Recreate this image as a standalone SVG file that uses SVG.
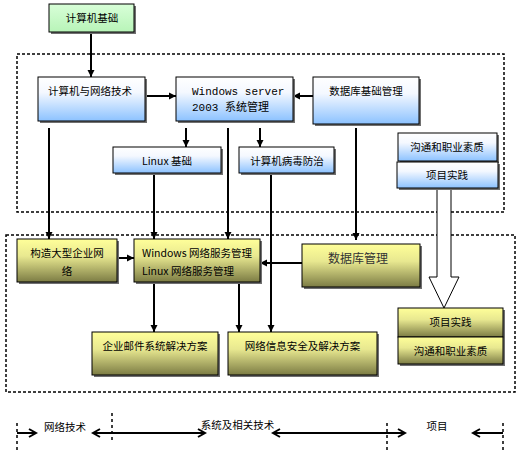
<svg xmlns="http://www.w3.org/2000/svg" width="518" height="456" viewBox="0 0 518 456">
<defs>
<linearGradient id="gBlue" x1="0" y1="0" x2="0" y2="1"><stop offset="0" stop-color="#ffffff"/><stop offset="0.35" stop-color="#f4f8ff"/><stop offset="1" stop-color="#8cc2ff"/></linearGradient>
<linearGradient id="gOlive" x1="0" y1="0" x2="0" y2="1"><stop offset="0" stop-color="#ffff99"/><stop offset="0.4" stop-color="#e8e890"/><stop offset="1" stop-color="#7c7c44"/></linearGradient>
<linearGradient id="gGreen" x1="0" y1="0" x2="0" y2="1"><stop offset="0" stop-color="#d8ffd8"/><stop offset="1" stop-color="#b8f4b8"/></linearGradient>
<marker id="ah" markerUnits="userSpaceOnUse" markerWidth="8" markerHeight="8" refX="7" refY="4" orient="auto"><path d="M0,0.5 L7,4 L0,7.5 z" fill="#000"/></marker>
<marker id="oh" markerUnits="userSpaceOnUse" markerWidth="10" markerHeight="10" refX="8" refY="5" orient="auto-start-reverse"><path d="M1,1 L8,5 L1,9" fill="none" stroke="#000" stroke-width="2"/></marker>
</defs>
<style>
.sh{fill:#707070}
.b{stroke:#000;stroke-width:1}
.blue{fill:url(#gBlue)}
.olive{fill:url(#gOlive)}
.green{fill:url(#gGreen)}
text{font-family:"Noto Sans CJK SC","Liberation Sans",sans-serif;font-size:10.5px;fill:#000;text-anchor:middle}
.l{text-anchor:start}
.mono{font-family:"Liberation Mono","Noto Sans CJK SC",monospace;font-size:11px}
.big{font-size:12px;fill:#333}
.c{stroke:#000;stroke-width:2;fill:none}
.dash{stroke:#000;stroke-width:1.5;fill:none;stroke-dasharray:3,2}
.vd{stroke:#000;stroke-width:1.5;stroke-dasharray:3,3}
</style>
<g id="frames">
<rect class="dash" x="17" y="54" width="487" height="158"/>
<rect class="dash" x="6" y="235" width="509" height="157"/>
</g>
<g id="connectors">
<line class="c" x1="91" y1="32" x2="91" y2="77" marker-end="url(#ah)"/>
<line class="c" x1="145" y1="96" x2="176" y2="96" marker-end="url(#ah)"/>
<line class="c" x1="313" y1="96" x2="293" y2="96" marker-end="url(#ah)"/>
<line class="c" x1="186" y1="128" x2="186" y2="147" marker-end="url(#ah)"/>
<line class="c" x1="260" y1="128" x2="260" y2="147" marker-end="url(#ah)"/>
<line class="c" x1="49" y1="128" x2="49" y2="239" marker-end="url(#ah)"/>
<line class="c" x1="154" y1="173" x2="154" y2="239" marker-end="url(#ah)"/>
<line class="c" x1="228" y1="128" x2="228" y2="239" marker-end="url(#ah)"/>
<line class="c" x1="271" y1="173" x2="271" y2="332" marker-end="url(#ah)"/>
<line class="c" x1="356" y1="128" x2="356" y2="240" marker-end="url(#ah)"/>
<line class="c" x1="117" y1="258" x2="134" y2="258" marker-end="url(#ah)"/>
<line class="c" x1="302" y1="263" x2="260" y2="263" marker-end="url(#ah)"/>
<line class="c" x1="154" y1="282" x2="154" y2="332" marker-end="url(#ah)"/>
<line class="c" x1="239" y1="282" x2="239" y2="332" marker-end="url(#ah)"/>
<path d="M437,184 L451,184 L451,277 L459,277 L444,308 L429,277 L437,277 z" fill="#fff" stroke="#000" stroke-width="1"/>
</g>
<g id="n-jsjjc"><rect class="sh" x="51" y="6" width="85" height="28"/><rect class="b green" x="49" y="4" width="85" height="28"/><text x="92" y="21.5">计算机基础</text></g>
<g id="n-jsjwl"><rect class="sh" x="40" y="79" width="107" height="44"/><rect class="b blue" x="38" y="77" width="107" height="44"/><text x="90" y="95">计算机与网络技术</text></g>
<g id="n-win"><rect class="sh" x="178" y="79" width="117" height="44"/><rect class="b blue" x="176" y="77" width="117" height="44"/><text class="l mono" x="192" y="95">Windows server</text><text class="l mono" x="192" y="111">2003 系统管理</text></g>
<g id="n-dbjc"><rect class="sh" x="315" y="79" width="106" height="47"/><rect class="b blue" x="313" y="77" width="106" height="47"/><text x="366" y="95">数据库基础管理</text></g>
<g id="n-linux"><rect class="sh" x="115" y="149" width="108" height="26"/><rect class="b blue" x="113" y="147" width="108" height="26"/><text x="167" y="164.5">Linux 基础</text></g>
<g id="n-virus"><rect class="sh" x="241" y="149" width="95" height="26"/><rect class="b blue" x="239" y="147" width="95" height="26"/><text x="287" y="164.5">计算机病毒防治</text></g>
<g id="n-gt1"><rect class="sh" x="400" y="135" width="99" height="28"/><rect class="b blue" x="398" y="133" width="99" height="28"/><text x="447" y="151">沟通和职业素质</text></g>
<g id="n-xm1"><rect class="sh" x="399" y="164" width="101" height="26"/><rect class="b blue" x="397" y="162" width="101" height="26"/><text x="447" y="179">项目实践</text></g>
<g id="n-gz"><rect class="sh" x="19" y="241" width="100" height="43"/><rect class="b olive" x="17" y="239" width="100" height="43"/><text x="67" y="257">构造大型企业网</text><text x="67" y="275">络</text></g>
<g id="n-wlfw"><rect class="sh" x="136" y="241" width="126" height="43"/><rect class="b olive" x="134" y="239" width="126" height="43"/><text class="l" x="142" y="257">Windows 网络服务管理</text><text class="l" x="142" y="275">Linux 网络服务管理</text></g>
<g id="n-db"><rect class="sh" x="304" y="246" width="118" height="43"/><rect class="b olive" x="302" y="244" width="118" height="43"/><text class="big" x="358" y="262.5">数据库管理</text></g>
<g id="n-mail"><rect class="sh" x="94" y="334" width="126" height="43"/><rect class="b olive" x="92" y="332" width="126" height="43"/><text x="155" y="350">企业邮件系统解决方案</text></g>
<g id="n-sec"><rect class="sh" x="230" y="334" width="149" height="43"/><rect class="b olive" x="228" y="332" width="149" height="43"/><text x="302.5" y="349.5">网络信息安全及解决方案</text></g>
<g id="n-xm2"><rect class="sh" x="400" y="310" width="105" height="29"/><rect class="b olive" x="398" y="308" width="105" height="29"/><text x="450.5" y="326">项目实践</text></g>
<g id="n-gt2"><rect class="sh" x="400" y="339" width="105" height="27"/><rect class="b olive" x="398" y="337" width="105" height="27"/><text x="450.5" y="355">沟通和职业素质</text></g>
<g id="timeline">
<line class="vd" x1="17" y1="423" x2="17" y2="452"/>
<line class="vd" x1="112" y1="413" x2="112" y2="443"/>
<line class="vd" x1="387" y1="423" x2="387" y2="452"/>
<line class="vd" x1="503" y1="423" x2="503" y2="452"/>
<line class="c" x1="17" y1="433" x2="36" y2="433" marker-end="url(#oh)"/>
<line class="c" x1="93" y1="433" x2="205" y2="433" marker-start="url(#oh)" marker-end="url(#oh)"/>
<line class="c" x1="273" y1="433" x2="405" y2="433" marker-start="url(#oh)" marker-end="url(#oh)"/>
<line class="c" x1="473" y1="433" x2="503" y2="433" marker-start="url(#oh)"/>
<text x="65" y="431">网络技术</text>
<text x="237.5" y="429">系统及相关技术</text>
<text x="437" y="430">项目</text>
</g>
</svg>
